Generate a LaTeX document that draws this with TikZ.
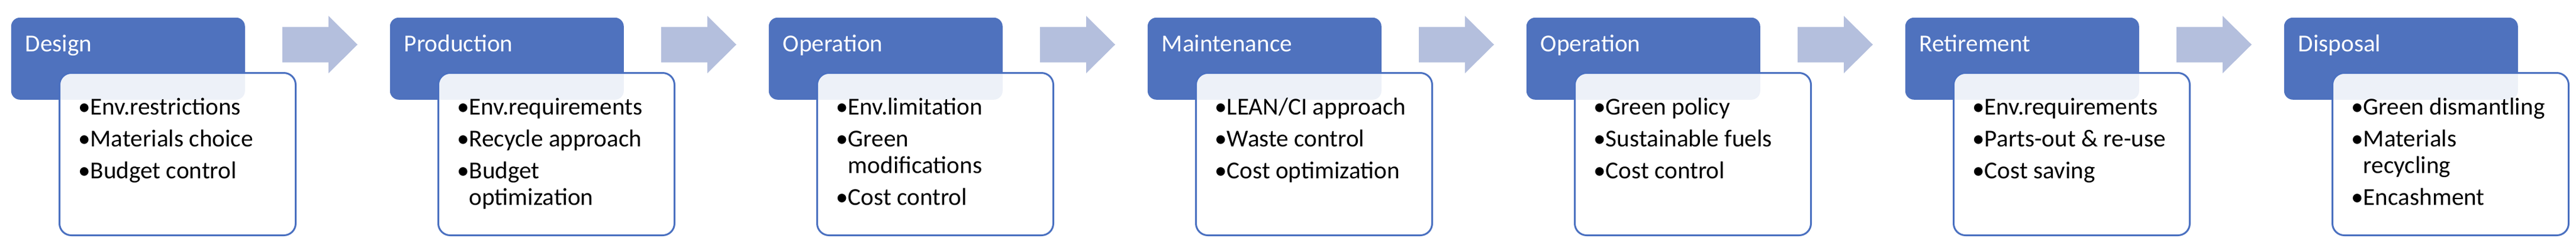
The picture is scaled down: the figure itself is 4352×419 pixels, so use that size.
\documentclass[tikz,border=0pt]{standalone}
\usepackage{fontspec}
\setmainfont{Carlito}

\definecolor{phaseblue}{HTML}{4F72BE}
\definecolor{flowblue}{HTML}{B4BFDD}
\definecolor{detailline}{HTML}{4A70C0}

\newcommand\bl{\makebox[4.75pt][l]{\hspace{-0.4pt}\textbullet}}

\begin{document}
\begin{tikzpicture}[x=0.25pt,y=-0.25pt,
    phase/.style={fill=phaseblue, rounded corners=3.75pt, inner sep=0pt,
      minimum width=98.75pt, minimum height=34.75pt, anchor=north west},
    phasetitle/.style={text=white, inner sep=0pt, anchor=base west,
      font=\fontsize{10.3}{11.25}\selectfont},
    detail/.style={draw=detailline, line width=0.75pt, fill=white, fill opacity=0.9,
      rounded corners=5pt, inner sep=0pt, minimum width=99.75pt,
      minimum height=68.75pt, anchor=north west},
    detailtext/.style={inner sep=0pt, anchor=north west,
      font=\fontsize{10.3}{11.25}\selectfont},
    flow/.style={fill=flowblue}]
  \useasboundingbox (0,0) rectangle (4352,419);
  \foreach \i/\title/\items in {
      0/Design/{\bl & Env.restrictions\\[2.25pt] \bl & Materials choice\\[2.25pt] \bl & Budget control},
      1/Production/{\bl & Env.requirements\\[2.25pt] \bl & Recycle approach\\[2.25pt] \bl & Budget\\ & optimization},
      2/Operation/{\bl & Env.limitation\\[2.25pt] \bl & Green\\ & modifications\\[2.25pt] \bl & Cost control},
      3/Maintenance/{\bl & LEAN/CI approach\\[2.25pt] \bl & Waste control\\[2.25pt] \bl & Cost optimization},
      4/Operation/{\bl & Green policy\\[2.25pt] \bl & Sustainable fuels\\[2.25pt] \bl & Cost control},
      5/Retirement/{\bl & Env.requirements\\[2.25pt] \bl & Parts-out \& re-use\\[2.25pt] \bl & Cost saving},
      6/Disposal/{\bl & Green dismantling\\[2.25pt] \bl & Materials\\ & recycling\\[2.25pt] \bl & Encashment}} {
    \node[phase] (p\i) at (640*\i+18,29) {};
    \node[phasetitle] (t\i) at (640*\i+42,87) {\title};
    \node[detail] (d\i) at (640*\i+99,122) {};
    \node[detailtext] (l\i) at (640*\i+133,162)
      {\begin{tabular}{@{}l@{}l@{}}\items\end{tabular}};
    % block arrow to the next phase
    \ifnum\i<6
      \coordinate (s\i) at (640*\i+477,75.5);
      \fill[flow] (s\i) ++(0,-30) -- ++(78,0) -- ++(0,-18.5) -- ++(49,48.5)
        -- ++(-49,48.5) -- ++(0,-18.5) -- ++(-78,0) -- cycle;
    \fi
  }
\end{tikzpicture}
\end{document}
